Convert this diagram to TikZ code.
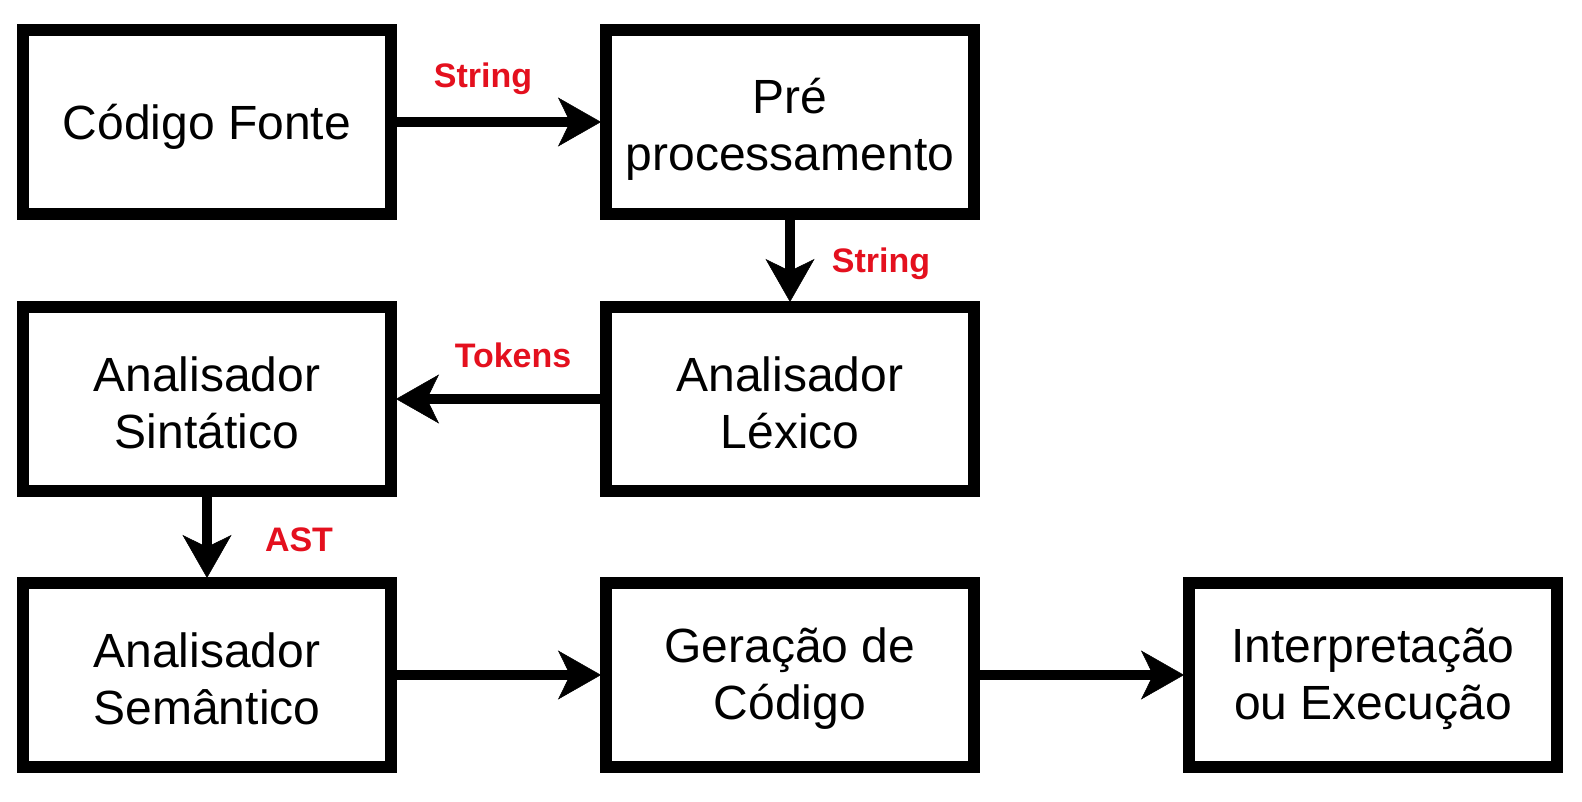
\documentclass[tikz,border=0pt]{standalone}
\usepackage{fontspec}
\setmainfont{Liberation Sans}
\usetikzlibrary{arrows.meta}
\definecolor{lblred}{RGB}{228,16,30}
\begin{document}
\begin{tikzpicture}[x=1pt,y=1pt,
  box/.style={draw=black, line width=12pt, minimum width=368pt, minimum height=184pt,
    inner sep=0pt},
  boxtext/.style={align=center, inner sep=0pt, font=\fontsize{48}{57}\selectfont, text=black},
  conn/.style={line width=10pt, -{Stealth[length=43pt,width=49pt,inset=12pt,line width=0.5pt]}, shorten >=-1pt},
  lbl/.style={text=lblred, font=\fontsize{34}{40}\selectfont\bfseries, inner sep=0pt}]
\useasboundingbox (0,0) rectangle (1582,802);
\fill[white] (0,0) rectangle (1582,802);
\node[box] (src) at (207,680) {};
\node[box] (pre) at (790,680) {};
\node[box] (lex) at (790,403) {};
\node[box] (sin) at (207,403) {};
\node[box] (sem) at (207,127) {};
\node[box] (gen) at (790,127) {};
\node[box] (int) at (1373,127) {};
\node[boxtext] (srcT) at ([yshift=-5pt]src.center) {Código Fonte};
\node[boxtext] (preT) at ([yshift=-7pt]pre.center) {Pré\\processamento};
\node[boxtext] (lexT) at ([yshift=-4pt]lex.center) {Analisador\\Léxico};
\node[boxtext] (sinT) at ([yshift=-4pt]sin.center) {Analisador\\Sintático};
\node[boxtext] (semT) at ([yshift=-4pt]sem.center) {Analisador\\Semântico};
\node[boxtext] (genT) at ([yshift=-4pt]gen.center) {Geração de\\Código};
\node[boxtext] (intT) at ([yshift=-4pt]int.center) {Interpretação\\ou Execução};
\draw[conn] (src) -- (pre);
\draw[conn] (pre) -- (lex);
\draw[conn] (lex) -- (sin);
\draw[conn] (sin) -- (sem);
\draw[conn] (sem) -- (gen);
\draw[conn] (gen) -- (int);
\node[lbl] (l1) at (483,723) {String};
\node[lbl] (l2) at (881,538) {String};
\node[lbl] (l3) at (513,447) {Tokens};
\node[lbl] (l4) at (299,262) {AST};
\end{tikzpicture}
\end{document}
